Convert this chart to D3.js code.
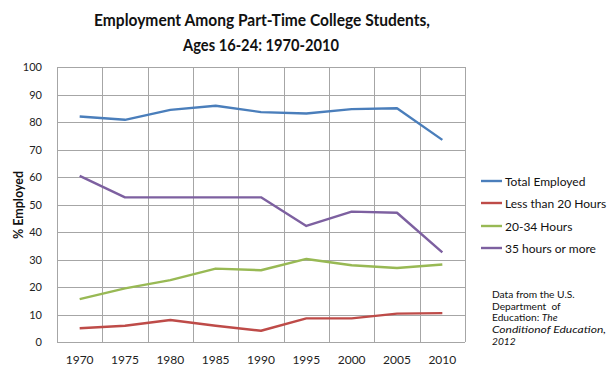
<!DOCTYPE html>
<html><head><meta charset="utf-8">
<script src="https://cdn.jsdelivr.net/npm/d3@7"></script>
<style>body{margin:0;background:#fff}svg{display:block}text{font-family:Lato,"Open Sans",sans-serif}</style>
</head><body><svg id="c" width="615" height="373"></svg>
<script>
const years = ["1970","1975","1980","1985","1990","1995","2000","2005","2010"];
const totalEmployed = [82, 80.8, 84.4, 85.9, 83.6, 83.1, 84.7, 85, 73.5];
const lessThan20 = [5.0, 5.9, 8.0, 5.9, 4.1, 8.6, 8.6, 10.3, 10.5];
const hours20to34 = [15.6, 19.5, 22.5, 26.7, 26.1, 30.2, 27.9, 26.9, 28.2];
const hours35plus = [60.4, 52.6, 52.6, 52.6, 52.6, 42.2, 47.4, 47.0, 32.6];
const seriesNames = ["Total Employed","Less than 20 Hours","20-34 Hours","35 hours or more"];
const yTicks = [0,10,20,30,40,50,60,70,80,90,100];
const colors = ["#4A7EBB","#BE4B48","#98B954","#7D60A0"];
const series = [totalEmployed, lessThan20, hours20to34, hours35plus];

const svg = d3.select("#c");
const L=57, R=465, T=67, B=342;
const x = d3.scaleBand().domain(years).range([L,R]);
const y = d3.scaleLinear().domain([0,100]).range([B,T]);
const grid="#a6a6a6";

svg.append("g").selectAll("line").data(yTicks).join("line")
  .attr("x1",L).attr("x2",R).attr("y1",d=>Math.round(y(d))+0.5).attr("y2",d=>Math.round(y(d))+0.5)
  .attr("stroke",grid).attr("stroke-width",1);
const vx = years.map(d=>x(d)).concat([R]);
svg.append("g").selectAll("line").data(vx).join("line")
  .attr("x1",d=>Math.round(d)+0.5).attr("x2",d=>Math.round(d)+0.5).attr("y1",T).attr("y2",B)
  .attr("stroke",grid).attr("stroke-width",1);

svg.append("g").selectAll("text").data(yTicks).join("text")
  .attr("x",42).attr("y",d=>y(d)+4).attr("text-anchor","end")
  .attr("font-size",11).attr("fill","#222").text(d=>d);
svg.append("g").selectAll("text").data(years).join("text")
  .attr("x",d=>x(d)+x.bandwidth()/2).attr("y",364).attr("text-anchor","middle")
  .attr("font-size",12).attr("fill","#222").text(d=>d);

const line = d3.line().x((d,i)=>x(years[i])+x.bandwidth()/2).y(d=>y(d));
series.forEach((s,i)=>{
  svg.append("path").datum(s).attr("d",line).attr("fill","none")
    .attr("stroke",colors[i]).attr("stroke-width",2.4).attr("stroke-linejoin","round");
});

svg.append("text").attr("x",262).attr("y",26).attr("text-anchor","middle")
  .attr("font-size",17).attr("font-weight","bold").attr("fill","#111")
  .attr("textLength",336).attr("lengthAdjust","spacingAndGlyphs")
  .text("Employment Among Part-Time College Students,");
svg.append("text").attr("x",261).attr("y",51).attr("text-anchor","middle")
  .attr("font-size",17).attr("font-weight","bold").attr("fill","#111")
  .attr("textLength",156).attr("lengthAdjust","spacingAndGlyphs")
  .text("Ages 16-24: 1970-2010");

svg.append("text").attr("transform","translate(23,205) rotate(-90)").attr("text-anchor","middle")
  .attr("font-size",12.5).attr("font-weight","bold").attr("fill","#111").text("% Employed");

const ly = [181,203,226,248];
seriesNames.forEach((n,i)=>{
  svg.append("line").attr("x1",481).attr("x2",502).attr("y1",ly[i]).attr("y2",ly[i])
    .attr("stroke",colors[i]).attr("stroke-width",2.4);
  svg.append("text").attr("x",505).attr("y",ly[i]+4.5).attr("font-size",12).attr("fill","#111").text(n);
});

const src = svg.append("g").attr("font-size",10.2).attr("fill","#111");
src.append("text").attr("x",492).attr("y",298).text("Data from the U.S.");
src.append("text").attr("x",492).attr("y",310).attr("xml:space","preserve").text("Department\u00a0 of");
const t3 = src.append("text").attr("x",492).attr("y",321);
t3.append("tspan").text("Education: ");
t3.append("tspan").attr("font-style","italic").text("The");
src.append("text").attr("x",492).attr("y",333).attr("font-style","italic")
  .attr("textLength",114).attr("lengthAdjust","spacingAndGlyphs").text("Conditionof Education,");
src.append("text").attr("x",492).attr("y",345).attr("font-style","italic").text("2012");
</script></body></html>
